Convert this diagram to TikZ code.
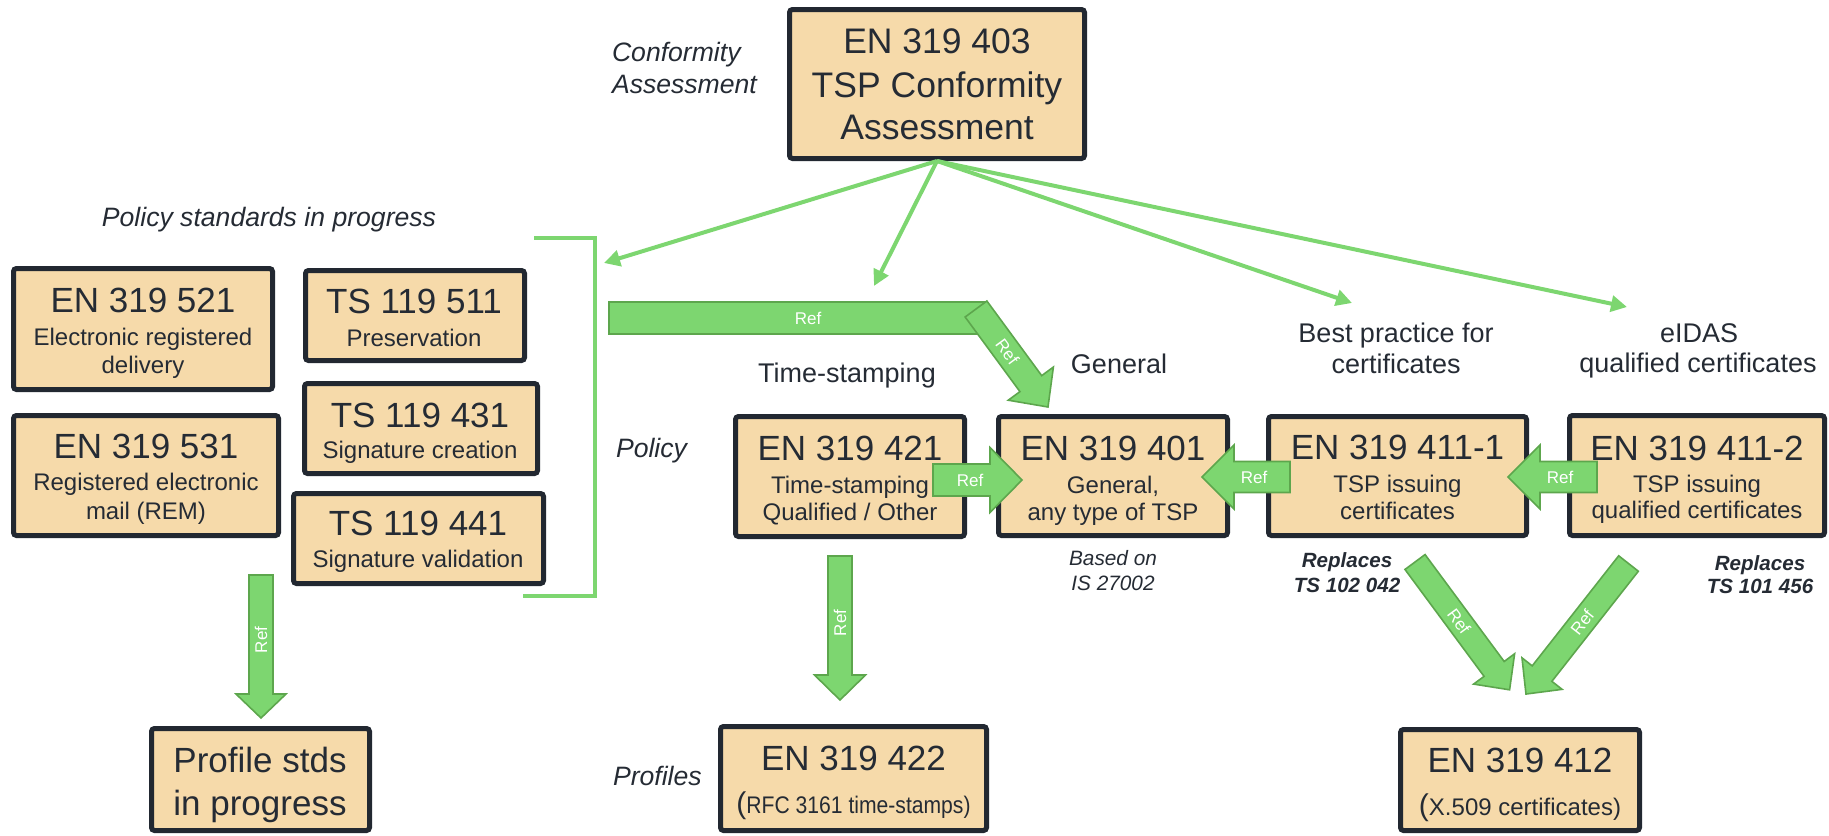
\documentclass[tikz,border=0pt]{standalone}
\usepackage{fontspec}
\usepackage{graphicx}
\setmainfont{Liberation Sans}
\usetikzlibrary{fit,calc,arrows.meta}
\definecolor{boxc}{HTML}{F6DAAA}
\definecolor{bordc}{HTML}{222831}
\definecolor{txtc}{HTML}{252B34}
\definecolor{grn}{HTML}{7DD670}
\definecolor{grnd}{HTML}{5DA64D}
% #1 name, #2 tail, #3 angle, #4 length, #5 shaft w, #6 head w, #7 head len, #8 label pos, #9 label rot
\newcommand{\refarrow}[9]{%
  \begin{scope}[shift={#2},rotate=#3]
    \path[blockarrow] (0,{-(#5)/2}) -- ({#4-#7},{-(#5)/2}) -- ({#4-#7},{-(#6)/2}) -- (#4,0)
      -- ({#4-#7},{(#6)/2}) -- ({#4-#7},{(#5)/2}) -- (0,{(#5)/2}) -- cycle;
    \node[reftext,rotate=#9] (#1) at (#8,0) {Ref};
  \end{scope}}
\begin{document}
\begin{tikzpicture}[x=0.5pt,y=-0.5pt,
  every node/.style={text=txtc, inner sep=0pt, outer sep=0pt},
  stdbox/.style={draw=bordc, fill=boxc, line width=2.5pt, rounded corners=1.5pt, inner sep=0pt},
  ttl/.style={font=\fontsize{17.5}{20}\selectfont, anchor=base},
  sub/.style={font=\fontsize{12}{14}\selectfont, anchor=base},
  lbl/.style={font=\fontsize{13.5}{16}\selectfont, anchor=base},
  ital/.style={font=\fontsize{13.3}{16}\selectfont\itshape, anchor=base west},
  note/.style={font=\fontsize{10.4}{12}\selectfont\itshape, anchor=base},
  repl/.style={font=\fontsize{10.3}{12}\selectfont\bfseries\itshape, anchor=base},
  conn/.style={draw=grn, line width=2pt, -{Triangle[length=8pt,width=8pt]}},
  brk/.style={draw=grn, line width=1.6pt},
  blockarrow/.style={fill=grn, draw=grnd, line width=0.8pt, line join=miter},
  reftext/.style={text=white, font=\fontsize{8.5}{10}\selectfont}]
\useasboundingbox (0,0) rectangle (1829,835);

% ---------- boxes ----------
\node[stdbox, fit={(789.5,9.5) (1084.5,158.5)}] (top) {};
\node[stdbox, fit={(13.5,268.5) (272.5,389.5)}] (en521) {};
\node[stdbox, fit={(305.5,270.5) (524.5,360.5)}] (ts511) {};
\node[stdbox, fit={(304.5,383.5) (537.5,473.5)}] (ts431) {};
\node[stdbox, fit={(13.5,415.5) (278.5,535.5)}] (en531) {};
\node[stdbox, fit={(293.5,493.5) (543.5,583.5)}] (ts441) {};
\node[stdbox, fit={(735.5,416.5) (964.5,536.5)}] (en421) {};
\node[stdbox, fit={(998.5,416.5) (1227.5,535.5)}] (en401) {};
\node[stdbox, fit={(1268.5,416.5) (1526.5,535.5)}] (en4111) {};
\node[stdbox, fit={(1569.5,415.5) (1824.5,535.5)}] (en4112) {};
\node[stdbox, fit={(151.5,728.5) (369.5,830.5)}] (profile) {};
\node[stdbox, fit={(720.5,726.5) (986.5,830.5)}] (en422) {};
\node[stdbox, fit={(1400.5,729.5) (1639.5,830.5)}] (en412) {};

% ---------- box texts ----------
\node[ttl, font=\fontsize{17.75}{20}\selectfont] (top1) at (937,53) {EN 319 403};
\node[ttl, font=\fontsize{17.75}{20}\selectfont] (top2) at (937,97) {TSP Conformity};
\node[ttl, font=\fontsize{17.75}{20}\selectfont] (top3) at (937,139) {Assessment};

\node[ttl] (en521a) at (143,312) {EN 319 521};
\node[sub] (en521b) at (143,345) {Electronic registered};
\node[sub] (en521c) at (143,373) {delivery};

\node[ttl] (ts511a) at (414,313) {TS 119 511};
\node[sub] (ts511b) at (414,346) {Preservation};

\node[ttl] (ts431a) at (420,427) {TS 119 431};
\node[sub] (ts431b) at (420,458) {Signature creation};

\node[ttl] (en531a) at (146,458) {EN 319 531};
\node[sub] (en531b) at (146,490) {Registered electronic};
\node[sub] (en531c) at (146,519) {mail (REM)};

\node[ttl] (ts441a) at (418,535) {TS 119 441};
\node[sub] (ts441b) at (418,567) {Signature validation};

\node[ttl] (en421a) at (850,460) {EN 319 421};
\node[sub] (en421b) at (850,493) {Time-stamping};
\node[sub] (en421c) at (850,520) {Qualified / Other};

\node[ttl] (en401a) at (1113,460) {EN 319 401};
\node[sub] (en401b) at (1113,493) {General,};
\node[sub] (en401c) at (1113,520) {any type of TSP};

\node[ttl] (en4111a) at (1397.5,459) {EN 319 411-1};
\node[sub] (en4111b) at (1397.5,492) {TSP issuing};
\node[sub] (en4111c) at (1397.5,519) {certificates};

\node[ttl] (en4112a) at (1697,460) {EN 319 411-2};
\node[sub] (en4112b) at (1697,492) {TSP issuing};
\node[sub] (en4112c) at (1697,518) {qualified certificates};

\node[ttl] (profa) at (260,772) {Profile stds};
\node[ttl] (profb) at (260,815) {in progress};

\node[ttl] (en422a) at (853.5,770) {EN 319 422};
\node[sub] (en422b) at (853.5,813) {{\fontsize{15}{15}\selectfont(}\scalebox{0.88}[1]{RFC 3161 time-stamps)}};

\node[ttl] (en412a) at (1520,772) {EN 319 412};
\node[sub] (en412b) at (1520,815) {{\fontsize{15}{15}\selectfont(}X.509 certificates)};

% ---------- free labels ----------
\node[ital] (ca1) at (612,61) {Conformity};
\node[ital] (ca2) at (612,93) {Assessment};
\node[ital, anchor=base] (psip) at (269,226) {Policy standards in progress};
\node[ital] (policy) at (616,457) {Policy};
\node[ital] (profiles) at (613,785) {Profiles};

\node[lbl] (lts) at (847,382) {Time-stamping};
\node[lbl] (lgen) at (1119,373) {General};
\node[lbl] (lbp1) at (1396,342) {Best practice for};
\node[lbl] (lbp2) at (1396,373) {certificates};
\node[lbl] (lei1) at (1699,342) {eIDAS};
\node[lbl] (lei2) at (1698,372) {qualified certificates};

\node[note] (bo1) at (1113,565) {Based on};
\node[note] (bo2) at (1113,590) {IS 27002};
\node[repl] (r1a) at (1347,567) {Replaces};
\node[repl] (r1b) at (1347,592) {TS 102 042};
\node[repl] (r2a) at (1760,570) {Replaces};
\node[repl] (r2b) at (1760,593) {TS 101 456};

% ---------- bracket ----------
\coordinate (brkT) at (534,238);
\coordinate (brkB) at (523,596);
\draw[brk] (brkT) -- (595,238) -- (595,596) -- (brkB);

% ---------- connectors from EN 319 403 ----------
\coordinate (topS) at ($(top.south)+(0,2.5)$);
\coordinate (cBrk) at (604,263);
\coordinate (cTS) at (874,286);
\coordinate (cBP) at (1352,303);
\coordinate (cEI) at (1627,307);
\draw[conn] (topS) -- (cBrk);
\draw[conn] (topS) -- (cTS);
\draw[conn] (topS) -- (cBP);
\draw[conn] (topS) -- (cEI);

% ---------- block "Ref" arrows ----------
\path[blockarrow] (609,302) rectangle (987,334);
\node[reftext] (refbar) at (808,318) {Ref};
\refarrow{refdiag}{(976,309)}{-53.7}{121.6}{27}{56}{29}{53}{-53.7}

\refarrow{ref421}{(933,480)}{0}{89}{32}{65}{32}{37}{0}
\refarrow{ref4111}{(1290,477)}{180}{88}{31}{64}{32}{36}{0}
\refarrow{ref4112}{(1597,477)}{180}{89}{31}{64}{32}{37}{0}

\refarrow{refprof}{(261,575)}{-90}{143}{24}{50}{24}{65}{90}
\refarrow{ref422}{(840,556)}{-90}{144}{24}{51}{25}{67}{90}

\refarrow{refd1}{(1415,562)}{-53.5}{159}{25}{51}{26}{74}{-53.5}
\refarrow{refd2}{(1628.5,563.5)}{-128.15}{166}{25}{51}{26}{75}{51.85}

\end{tikzpicture}
\end{document}
